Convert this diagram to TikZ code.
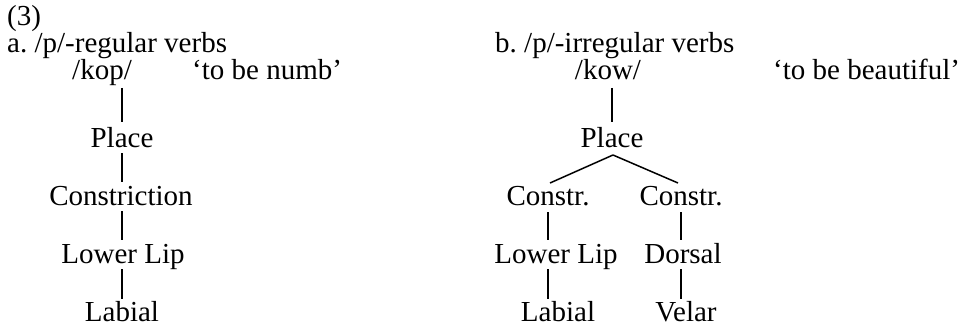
\documentclass[tikz,border=0pt]{standalone}
\usepackage{fontspec}
\setmainfont{Liberation Serif}
\usetikzlibrary{calc}
\begin{document}
\begin{tikzpicture}[x=1pt,y=-1pt,
  every node/.style={inner sep=0pt, font=\fontsize{29}{29}\selectfont},
  lbl/.style={anchor=base west},
  tn/.style={anchor=base},
  ln/.style={line width=1.5pt},
  br/.style={ln, shorten <=6pt, shorten >=23pt}]
\useasboundingbox (0,0) rectangle (963,326);
% left part
\node[lbl] (ex) at (7,26) {(3)};
\node[lbl] (ha) at (7,53) {a.\ /p/-regular verbs};
\node[tn] (kop) at (102,80) {/kop/};
\node[lbl] (gla) at (192,80) {‘to be numb’};
\node[tn] (pla) at (122,147) {Place};
\node[tn] (cona) at (121,205) {Constriction};
\node[tn] (lipa) at (123,263) {Lower Lip};
\node[tn] (laba) at (122,321) {Labial};
\draw[br, shorten <=8pt, shorten >=25pt] (kop.base -| pla.base) -- (pla.base);
\draw[br] (pla.base) -- (cona.base -| pla.base);
\draw[br] (cona.base -| pla.base) -- (lipa.base -| pla.base);
\draw[br, shorten >=22pt] (lipa.base -| pla.base) -- (laba.base -| pla.base);
% right part
\node[lbl] (hb) at (495,53) {b.\ /p/-irregular verbs};
\node[tn] (kow) at (608,80) {/kow/};
\node[lbl] (glb) at (773,80) {‘to be beautiful’};
\node[tn] (plb) at (612,147) {Place};
\node[tn] (cbl) at (548,205) {Constr.};
\node[tn] (cbr) at (681,205) {Constr.};
\node[tn] (lipb) at (556,263) {Lower Lip};
\node[tn] (dor) at (683,263) {Dorsal};
\node[tn] (labb) at (558,321) {Labial};
\node[tn] (vel) at (686,321) {Velar};
\draw[br, shorten <=8pt, shorten >=25pt] (kow.base -| plb.base) -- (plb.base);
\draw[ln] ($(plb.base)+(1,8)$) -- ($(cbl.base)+(2,-22)$);
\draw[ln] ($(plb.base)+(1,8)$) -- ($(cbr.base)+(-3,-22)$);
\draw[br, shorten <=7pt] (cbl.base) -- (lipb.base -| cbl.base);
\draw[br, shorten >=22pt] (lipb.base -| cbl.base) -- (labb.base -| cbl.base);
\draw[br, shorten <=7pt] (cbr.base) -- (dor.base -| cbr.base);
\draw[br, shorten >=22pt] (dor.base -| cbr.base) -- (vel.base -| cbr.base);
\end{tikzpicture}
\end{document}
